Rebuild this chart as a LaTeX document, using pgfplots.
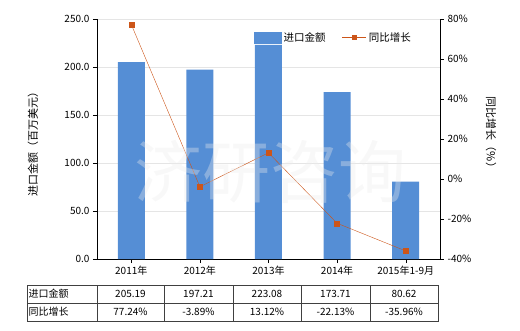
\documentclass[border=0pt]{standalone}
\usepackage{pgfplots}
\pgfplotsset{compat=1.18}
\usepackage{fontspec}
\setmainfont{Noto Sans CJK SC}
\definecolor{barblue}{RGB}{85,142,213}
\definecolor{lineor}{RGB}{204,85,25}
\begin{document}
\begin{tikzpicture}[x=1pt,y=1pt,font=\fontsize{10}{12}\selectfont]
\path (0,0) rectangle (520,330);
\begin{axis}[at={(97pt,71pt)}, anchor=south west, width=343pt, height=240pt, scale only axis,
  xmin=-0.5, xmax=4.5, ymin=0, ymax=250,
  axis x line*=bottom, axis y line*=left, axis line style={-, black},
  xtick={0,1,2,3,4}, xticklabels={2011年,2012年,2013年,2014年,2015年1-9月},
  ytick={0,50,100,150,200,250},
  tick align=outside, major tick length=4pt, tick style={black},
  ymajorgrids, grid style={gray!20},
  ticklabel style={font=\fontsize{10}{12}\selectfont},
  /pgf/number format/assume math mode=true,
  yticklabel style={/pgf/number format/.cd, fixed, fixed zerofill, precision=1},
  clip=false]
\addplot[ybar, bar width=27pt, fill=barblue, draw=none] coordinates {(0,205.19) (1,197.21) (2,223.08) (3,173.71) (4,80.62)};
\end{axis}
\begin{axis}[at={(97pt,71pt)}, anchor=south west, width=343pt, height=240pt, scale only axis,
  xmin=-0.5, xmax=4.5, ymin=-40, ymax=80,
  axis x line=none, axis y line*=right, axis line style={-, black},
  ytick={-40,-20,0,20,40,60,80},
  yticklabel={\pgfmathprintnumber{\tick}\%},
  tick align=outside, major tick length=4pt, tick style={black},
  ticklabel style={font=\fontsize{10}{12}\selectfont},
  /pgf/number format/assume math mode=true,
  legend style={at={(0.458,0.923)}, anchor=west, draw=none, fill=none, inner sep=0pt,
    font=\fontsize{10.5}{12}\selectfont, /tikz/every even column/.append style={column sep=14pt}},
  legend columns=2, legend cell align=left]
\addlegendimage{legend image code/.code={\fill[barblue] (0pt,-5.5pt) rectangle (27pt,5.5pt);}}
\addlegendentry{进口金额}
\addplot[lineor, mark=square*, mark size=2.5pt, mark options={solid},
  legend image code/.code={\draw[lineor, line width=1.3pt] (0pt,0pt) -- (24pt,0pt); \fill[lineor] (10pt,-2pt) rectangle (14pt,2pt);}]
  coordinates {(0,77.24) (1,-3.89) (2,13.12) (3,-22.13) (4,-35.96)};
\addlegendentry{同比增长}
\end{axis}
\node[text=gray!15, opacity=0.35, font=\fontsize{68}{68}\selectfont] at (270,158) {济研咨询};
\node[rotate=90, font=\fontsize{11}{12}\selectfont] at (33,189) {进口金额（百万美元）};
\node[rotate=-90, font=\fontsize{11}{12}\selectfont] at (491,195) {同比增长（\%）};
% table
\draw[black!75, line width=0.6pt] (27,45) rectangle (438,9);
\draw[black!75, line width=0.6pt] (27,27) -- (438,27);
\foreach \x in {97,164,233,301,370} {\draw[black!75, line width=0.6pt] (\x,45) -- (\x,9);}
\node[anchor=west, inner sep=1.5pt] at (27,36.5) {进口金额};
\node[anchor=west, inner sep=1.5pt] at (27,18.5) {同比增长};
\node at (130.5,36) {205.19};
\node at (198.5,36) {197.21};
\node at (267,36) {223.08};
\node at (335.5,36) {173.71};
\node at (404,36) {80.62};
\node at (130.5,18) {77.24\%};
\node at (198.5,18) {-3.89\%};
\node at (267,18) {13.12\%};
\node at (335.5,18) {-22.13\%};
\node at (404,18) {-35.96\%};
\end{tikzpicture}
\end{document}
